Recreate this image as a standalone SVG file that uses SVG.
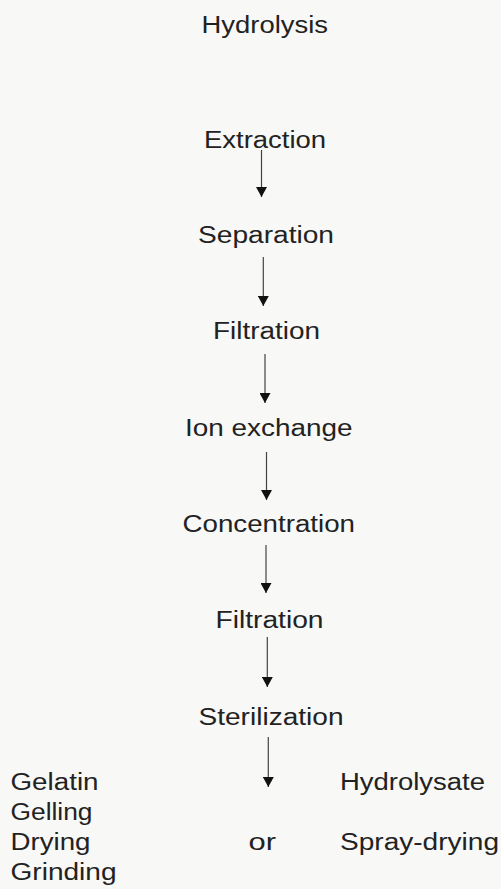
<svg xmlns="http://www.w3.org/2000/svg" width="501" height="889" viewBox="0 0 501 889">
<defs>
<style>
text{font-family:"Liberation Sans",Arial,sans-serif;font-size:23px;fill:#222;}
.c line{stroke:#444;stroke-width:1.2;}
</style>
<marker id="ah" markerUnits="userSpaceOnUse" markerWidth="11" markerHeight="11" refX="10" refY="5.5" orient="auto" viewBox="0 0 10 11">
<path d="M0,0 L10,5.5 L0,11 z" fill="#111"/>
</marker>
</defs>
<rect width="501" height="889" fill="#f8f8f6"/>
<g id="n-hydrolysis"><text x="201.5" y="32.5" textLength="126.5" lengthAdjust="spacingAndGlyphs">Hydrolysis</text></g>
<g id="n-extraction"><text x="204" y="147.5" textLength="122" lengthAdjust="spacingAndGlyphs">Extraction</text></g>
<g id="n-separation"><text x="198" y="242.5" textLength="136" lengthAdjust="spacingAndGlyphs">Separation</text></g>
<g id="n-filtration1"><text x="213" y="339" textLength="107" lengthAdjust="spacingAndGlyphs">Filtration</text></g>
<g id="n-ionexchange"><text x="185" y="436" textLength="167.5" lengthAdjust="spacingAndGlyphs">Ion exchange</text></g>
<g id="n-concentration"><text x="182.5" y="531.5" textLength="172.5" lengthAdjust="spacingAndGlyphs">Concentration</text></g>
<g id="n-filtration2"><text x="215.5" y="628" textLength="108" lengthAdjust="spacingAndGlyphs">Filtration</text></g>
<g id="n-sterilization"><text x="198.5" y="725" textLength="145" lengthAdjust="spacingAndGlyphs">Sterilization</text></g>
<g id="n-gelatin">
<text x="10.5" y="790" textLength="88" lengthAdjust="spacingAndGlyphs">Gelatin</text>
<text x="10.5" y="820" textLength="82" lengthAdjust="spacingAndGlyphs">Gelling</text>
<text x="10.5" y="850" textLength="80" lengthAdjust="spacingAndGlyphs">Drying</text>
<text x="10.5" y="879.5" textLength="106" lengthAdjust="spacingAndGlyphs">Grinding</text>
</g>
<g id="n-or"><text x="248.5" y="850" textLength="27.5" lengthAdjust="spacingAndGlyphs">or</text></g>
<g id="n-hydrolysate">
<text x="340" y="790" textLength="145" lengthAdjust="spacingAndGlyphs">Hydrolysate</text>
<text x="340" y="850" textLength="159" lengthAdjust="spacingAndGlyphs">Spray-drying</text>
</g>
<g id="connectors" class="c">
<line x1="261.5" y1="150" x2="261.5" y2="197" marker-end="url(#ah)"/>
<line x1="263.3" y1="257" x2="263.3" y2="306" marker-end="url(#ah)"/>
<line x1="265" y1="354" x2="265" y2="403" marker-end="url(#ah)"/>
<line x1="266.5" y1="452" x2="266.5" y2="500" marker-end="url(#ah)"/>
<line x1="266" y1="545" x2="266" y2="593" marker-end="url(#ah)"/>
<line x1="267.3" y1="637" x2="267.3" y2="687" marker-end="url(#ah)"/>
<line x1="268.3" y1="737" x2="268.3" y2="787" marker-end="url(#ah)"/>
</g>
</svg>
